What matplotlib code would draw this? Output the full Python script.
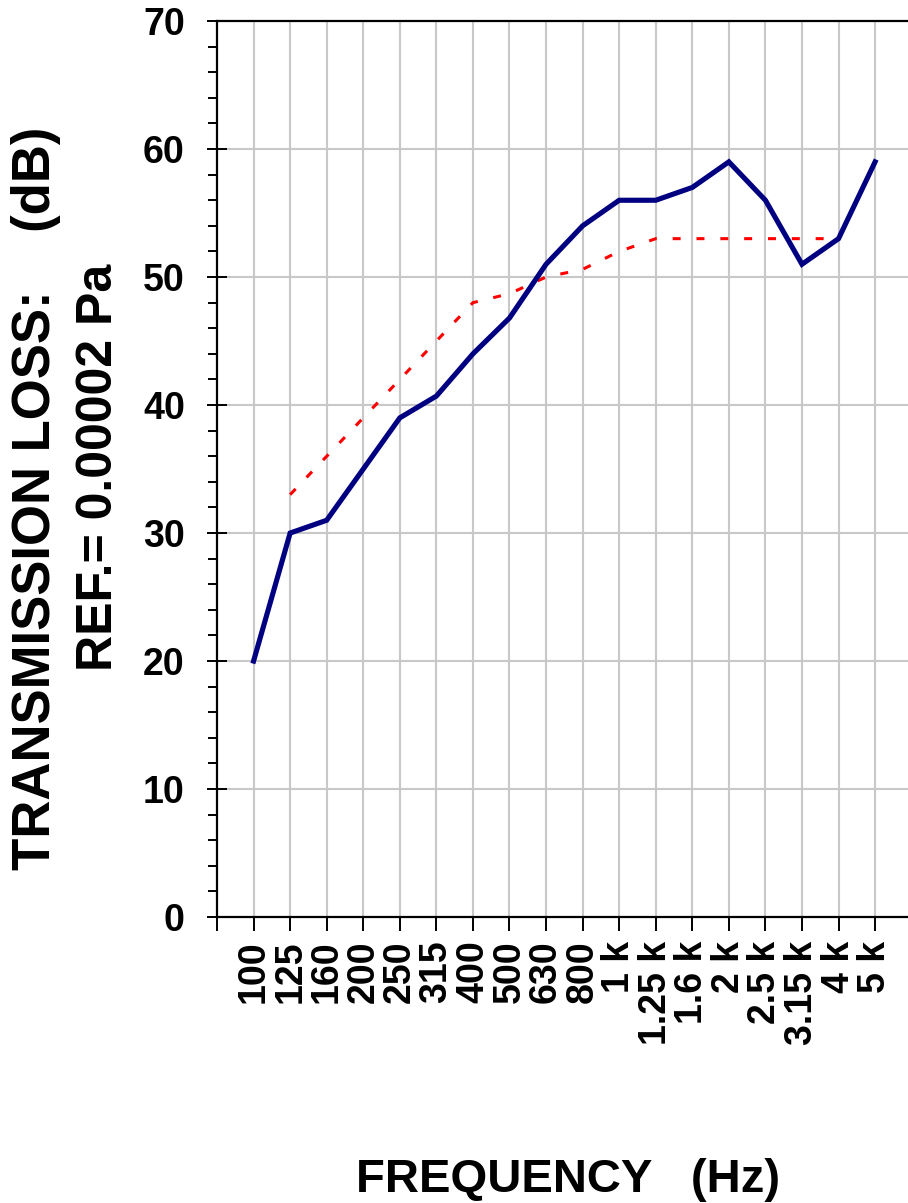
import numpy as np
import matplotlib
matplotlib.use("Agg")
import matplotlib.pyplot as plt
from matplotlib.ticker import MultipleLocator

plt.rcParams['font.family'] = ['Liberation Sans', 'DejaVu Sans']
plt.rcParams['font.weight'] = 'bold'

freqs = ["100", "125", "160", "200", "250", "315", "400", "500", "630", "800",
         "1 k", "1.25 k", "1.6 k", "2 k", "2.5 k", "3.15 k", "4 k", "5 k"]

# measured transmission loss (solid navy)
tl_measured = [20, 30, 31, 35, 39, 40.7, 44, 46.8, 51, 54,
               56, 56, 57, 59, 56, 51, 53, 59]

# reference curve (red dotted), 125 Hz .. 4 kHz
ref_freqs = freqs[1:17]
tl_reference = [33, 36, 39, 42, 45, 48, 48.7, 50, 50.6, 52,
                53, 53, 53, 53, 53, 53]

fig = plt.figure(figsize=(9.08, 12.03), dpi=100)
ax = fig.add_axes([0.239, 0.2377, 0.761, 0.7448])

x = np.arange(len(freqs))
xr = np.array([freqs.index(f) for f in ref_freqs])

ax.plot(xr, tl_reference, color='red', lw=2.2, dashes=(2.6, 5.2), zorder=3)
ax.plot(x, tl_measured, color='#000080', lw=3.7, solid_joinstyle='miter', zorder=4)

ax.set_xlim(-1, 17.9)
ax.set_ylim(0, 70)

# grid
for xi in x:
    ax.axvline(xi, color='#c8c8c8', lw=1.5, zorder=1)
for yi in range(10, 70, 10):
    ax.axhline(yi, color='#c8c8c8', lw=1.5, zorder=1)

ax.set_xticks(np.arange(-1, len(freqs)))
ax.set_xticklabels([""] + freqs, rotation=90, fontsize=27, fontweight='bold')
ax.tick_params(axis='x', direction='out', length=10, width=1.4, pad=7)

ax.yaxis.set_major_locator(MultipleLocator(10))
ax.yaxis.set_minor_locator(MultipleLocator(2))
ax.tick_params(axis='y', which='major', direction='inout', length=14.4, width=1.4,
               pad=16, labelsize=27)
ax.tick_params(axis='y', which='minor', direction='out', length=6.5, width=1.4)
for lab in ax.get_yticklabels():
    lab.set_fontweight('bold')

for side in ['left', 'bottom', 'top']:
    ax.spines[side].set_linewidth(1.6)
    ax.spines[side].set_color('black')
ax.spines['right'].set_visible(False)

fig.text(0.0395, 0.5855, "TRANSMISSION LOSS:    (dB)", rotation=90,
         ha='center', va='center', fontsize=38, fontweight='bold')
fig.text(0.1085, 0.6118, "REF.= 0.00002 Pa", rotation=90,
         ha='center', va='center', fontsize=36, fontweight='bold')
fig.text(0.6256, 0.019, "FREQUENCY   (Hz)", ha='center', va='center',
         fontsize=34, fontweight='bold')

fig.savefig("out.png", dpi=100)
